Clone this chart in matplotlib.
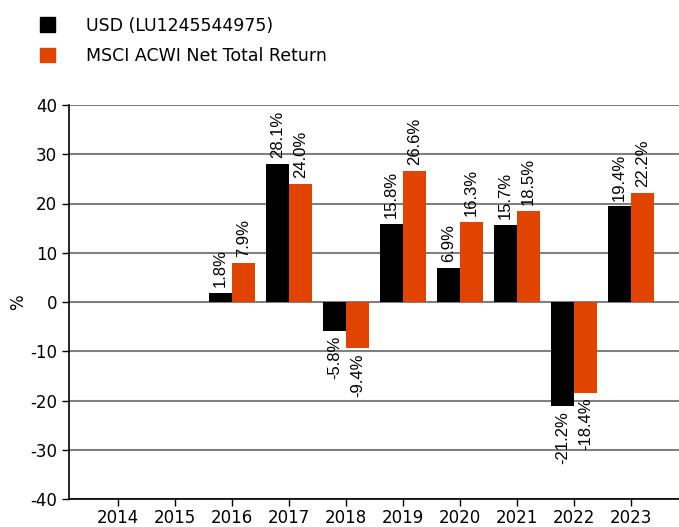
import numpy as np
import matplotlib
matplotlib.use("Agg")
import matplotlib.pyplot as plt
from matplotlib.patches import Patch

years = ["2014", "2015", "2016", "2017", "2018", "2019", "2020", "2021", "2022", "2023"]
fund = [None, None, 1.8, 28.1, -5.8, 15.8, 6.9, 15.7, -21.2, 19.4]
index = [None, None, 7.9, 24.0, -9.4, 26.6, 16.3, 18.5, -18.4, 22.2]
series_names = ["USD (LU1245544975)", "MSCI ACWI Net Total Return"]
colors = ["#000000", "#E04400"]

plt.rcParams["font.family"] = ["DejaVu Sans"]
plt.rcParams["axes.unicode_minus"] = False

fig = plt.figure(figsize=(6.79, 5.27), dpi=100)
ax = fig.add_axes([69 / 679, 28 / 527, 610 / 679, 394 / 527])

x = np.arange(len(years))
w = 0.4
for i, (vals, col) in enumerate(zip([fund, index], colors)):
    offs = -w / 2 if i == 0 else w / 2
    for xi, v in zip(x, vals):
        if v is None:
            continue
        ax.bar(xi + offs, v, width=w, color=col, zorder=3)
        va = "bottom" if v >= 0 else "top"
        pad = 1.2 if v >= 0 else -1.0
        ax.text(xi + offs, v + pad, f"{v:.1f}%", rotation=90, ha="center", va=va,
                fontsize=12, family="Liberation Sans", zorder=4)

ax.set_ylim(-40, 40)
ax.set_yticks(range(-40, 41, 10))
ax.set_xlim(-0.86, 9.84)
ax.set_xticks(x)
ax.set_xticklabels(years)
ax.tick_params(labelsize=12, length=5, width=1, colors="black")
ax.tick_params(axis="x", pad=2)
ax.yaxis.grid(True, color="#808080", linewidth=1.5, zorder=0)
ax.set_axisbelow(True)
for s in ["top", "right"]:
    ax.spines[s].set_visible(False)
ax.spines["left"].set_linewidth(1.2)
ax.spines["bottom"].set_linewidth(1.2)
ax.set_ylabel("%", fontsize=12, labelpad=2)

handles = [Patch(color=c) for c in colors]
fig.legend(handles, series_names, loc="upper left", bbox_to_anchor=(24 / 679, 1 - 1 / 527),
           frameon=False, fontsize=12.5, handlelength=0.9, handleheight=0.9,
           handletextpad=1.8, labelspacing=0.7)

fig.savefig("out.png", dpi=100)
